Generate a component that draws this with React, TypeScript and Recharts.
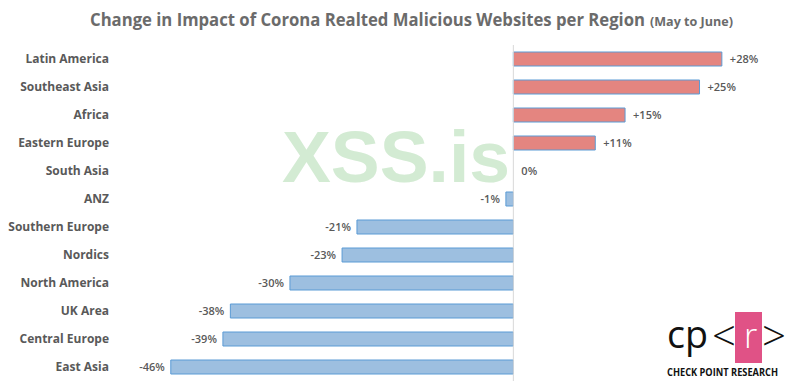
import React from "react";
import { BarChart, Bar, XAxis, YAxis, ReferenceLine, Cell, LabelList } from "recharts";

const regions = [
  "Latin America",
  "Southeast Asia",
  "Africa",
  "Eastern Europe",
  "South Asia",
  "ANZ",
  "Southern Europe",
  "Nordics",
  "North America",
  "UK Area",
  "Central Europe",
  "East Asia",
];
const changes = [28, 25, 15, 11, 0, -1, -21, -23, -30, -38, -39, -46];

const data = regions.map((region, i) => ({ region, change: changes[i] }));

const POS = "#e48580";
const NEG = "#9dbfe0";
const EDGE = "#5b9bd5";
const GRAY = "#595959";
const FONT = "'Open Sans', 'Liberation Sans', sans-serif";

const renderLabel = (props: any) => {
  const { x, y, width, height, value } = props;
  const v = Number(value);
  const left = Math.min(x, x + width);
  const right = Math.max(x, x + width);
  const cy = y + height / 2;
  const text = v > 0 ? `+${v}%` : `${v}%`;
  if (v >= 0) {
    return (
      <text x={right + 8} y={cy} dy="0.35em" textAnchor="start" fontSize={11} fontWeight={600} fill={GRAY} fontFamily={FONT}>
        {text}
      </text>
    );
  }
  return (
    <text x={left - 6} y={cy} dy="0.35em" textAnchor="end" fontSize={11} fontWeight={600} fill={GRAY} fontFamily={FONT}>
      {text}
    </text>
  );
};

export default function App() {
  return (
    <div style={{ position: "absolute", left: 0, top: 0, width: 800, height: 389, background: "#fff", overflow: "hidden" }}>
      <svg width={800} height={389} style={{ position: "absolute", left: 0, top: 0 }}>
        <text x={282} y={182} fontSize={72} fontWeight={700} fill="#d3ebd3" fontFamily="'Liberation Sans', Arial, sans-serif" textLength={228} lengthAdjust="spacingAndGlyphs">
          XSS.is
        </text>
      </svg>
      <div style={{ position: "absolute", left: 0, top: 0 }}>
        <BarChart
          width={800}
          height={389}
          data={data}
          layout="vertical"
          margin={{ top: 45, right: 26, bottom: 8, left: 0 }}
          barCategoryGap={7}
        >
          <XAxis type="number" domain={[-50, 35]} hide />
          <YAxis
            type="category"
            dataKey="region"
            width={141}
            axisLine={false}
            tickLine={false}
            tickSize={0}
            tickMargin={32}
            interval={0}
            tick={{ fontSize: 12, fontWeight: 700, fill: GRAY, fontFamily: FONT }}
          />
          <ReferenceLine x={0} stroke="#d9d9d9" strokeWidth={1} />
          <Bar dataKey="change" barSize={14} stroke={EDGE} strokeWidth={1} minPointSize={0.01} isAnimationActive={false}>
            {data.map((d, i) => (
              <Cell
                key={i}
                fill={d.change > 0 ? POS : d.change < 0 ? NEG : "none"}
                stroke={d.change === 0 ? "none" : EDGE}
              />
            ))}
            <LabelList dataKey="change" content={renderLabel} />
          </Bar>
        </BarChart>
      </div>
      <svg width={800} height={389} style={{ position: "absolute", left: 0, top: 0, pointerEvents: "none" }}>
        <text x={90} y={26} fontSize={17} fontWeight={700} fill="#6b6b6b" fontFamily={FONT} textLength={555} lengthAdjust="spacingAndGlyphs">
          Change in Impact of Corona Realted Malicious Websites per Region
        </text>
        <text x={650} y={26} fontSize={12} fontWeight={700} fill="#6b6b6b" fontFamily={FONT} textLength={83} lengthAdjust="spacingAndGlyphs">
          (May to June)
        </text>
        <rect x={735} y={312} width={27} height={51} fill="#e05286" />
        <text x={667} y={348} fontSize={38} fontWeight={400} fill="#111" fontFamily={FONT} textLength={41} lengthAdjust="spacingAndGlyphs">
          cp
        </text>
        <text x={712} y={351} fontSize={42} fontWeight={300} fill="#111" fontFamily={FONT}>
          &lt;
        </text>
        <text x={744} y={348} fontSize={34} fontWeight={300} fill="#fff" fontFamily={FONT}>
          r
        </text>
        <text x={762} y={351} fontSize={42} fontWeight={300} fill="#111" fontFamily={FONT}>
          &gt;
        </text>
        <text x={667} y={376} fontSize={11} fontWeight={700} fill="#111" fontFamily={FONT} textLength={111} lengthAdjust="spacingAndGlyphs">
          CHECK POINT RESEARCH
        </text>
      </svg>
    </div>
  );
}
